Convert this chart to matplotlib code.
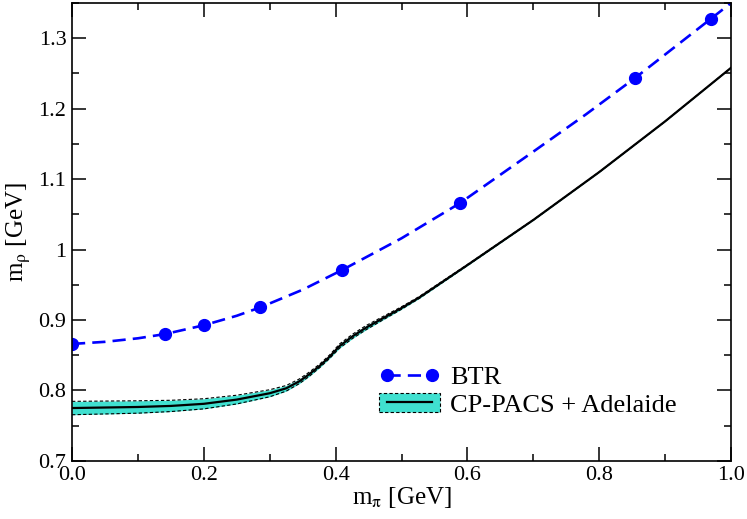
import matplotlib
matplotlib.use("Agg")
import matplotlib.pyplot as plt
from matplotlib.lines import Line2D
from matplotlib.patches import Patch
import numpy as np

plt.rcParams["font.family"] = ["Liberation Serif", "DejaVu Serif"]
plt.rcParams["mathtext.fontset"] = "stix"
plt.rcParams["font.size"] = 16

# ------------------- DATA -------------------
# BTR lattice points
btr_x = [0.0, 0.141, 0.200, 0.286, 0.410, 0.588, 0.855, 0.970]
btr_y = [0.866, 0.880, 0.8925, 0.918, 0.971, 1.0655, 1.244, 1.328]

# BTR fit curve (dashed)
btr_curve_x = [0.0, 0.05, 0.10, 0.141, 0.200, 0.250, 0.286, 0.350, 0.410, 0.500, 0.588, 0.700, 0.780, 0.855, 0.970, 1.0]
btr_curve_y = [0.866, 0.869, 0.874, 0.880, 0.8925, 0.906, 0.918, 0.943, 0.971, 1.016, 1.0655, 1.139, 1.192, 1.244, 1.328, 1.350]

# CP-PACS + Adelaide central curve and band half-width
cp_x = [0.0, 0.1, 0.15, 0.2, 0.25, 0.3, 0.325, 0.345, 0.36, 0.376, 0.391, 0.406, 0.426, 0.446, 0.467,
        0.5, 0.527, 0.6, 0.7, 0.8, 0.9, 1.0]
cp_y = [0.775, 0.7765, 0.778, 0.781, 0.787, 0.796, 0.803, 0.813, 0.823, 0.835, 0.848, 0.863, 0.877, 0.889, 0.900,
        0.917, 0.932, 0.978, 1.042, 1.110, 1.182, 1.258]
cp_err = [0.0095, 0.0088, 0.008, 0.0072, 0.0062, 0.005, 0.004, 0.0033, 0.003, 0.0025, 0.0025, 0.003, 0.003, 0.003, 0.0025,
          0.0018, 0.0014, 0.0008, 0.0004, 0.0003, 0.0002, 0.0002]

# ------------------- PLOT -------------------
fig = plt.figure(figsize=(7.47, 5.19), dpi=100)
ax = fig.add_axes([0.0964, 0.112, 0.8822, 0.8822])

cp_x = np.array(cp_x)
cp_y = np.array(cp_y)
cp_err = np.array(cp_err)
band_color = "#40e0d0"
ax.fill_between(cp_x, cp_y - cp_err, cp_y + cp_err, color=band_color, lw=0)
ax.plot(cp_x, cp_y - cp_err, color="black", lw=0.8, ls=(0, (3, 2)))
ax.plot(cp_x, cp_y + cp_err, color="black", lw=0.8, ls=(0, (3, 2)))
ax.plot(cp_x, cp_y, color="black", lw=1.6, solid_joinstyle="round")

ax.plot(btr_curve_x, btr_curve_y, color="#0000ff", lw=1.9, ls=(0, (5, 2.7)))
ax.plot(btr_x, btr_y, "o", color="#0000ff", ms=8.5)

ax.set_xlim(0.0, 1.0)
ax.set_ylim(0.7, 1.35)
ax.set_xticks(np.arange(0, 1.01, 0.2))
ax.set_xticklabels(["0.0", "0.2", "0.4", "0.6", "0.8", "1.0"])
ax.set_xticks(np.arange(0.1, 1.0, 0.2), minor=True)
ax.set_yticks([0.7, 0.8, 0.9, 1.0, 1.1, 1.2, 1.3])
ax.set_yticklabels(["0.7", "0.8", "0.9", "1", "1.1", "1.2", "1.3"])
ax.set_yticks(np.arange(0.75, 1.35, 0.1), minor=True)
ax.tick_params(which="both", direction="in", top=True, right=True, width=1.1)
ax.tick_params(which="major", length=10, labelsize=16, pad=4)
ax.tick_params(which="minor", length=5)
for s in ax.spines.values():
    s.set_linewidth(1.2)

ax.set_xlabel(r"m$_\mathrm{\pi}$ [GeV]", fontsize=18, labelpad=0)
ax.set_ylabel(r"m$_\mathrm{\rho}$ [GeV]", fontsize=18, labelpad=4)

btr_handle = Line2D([], [], color="#0000ff", lw=1.9, ls=(0, (5, 2.7)), marker="o", ms=8.5)
cp_handle = (Patch(facecolor=band_color, edgecolor="black", ls=(0, (3, 2)), lw=0.8),
             Line2D([], [], color="black", lw=1.6))
ax.legend([btr_handle, cp_handle], ["BTR", "CP-PACS + Adelaide"],
          loc="center left", bbox_to_anchor=(0.43, 0.152), frameon=False,
          numpoints=2, handlelength=2.3, fontsize=19, labelspacing=0.15,
          handletextpad=0.4)

fig.savefig("out.png", dpi=100)
